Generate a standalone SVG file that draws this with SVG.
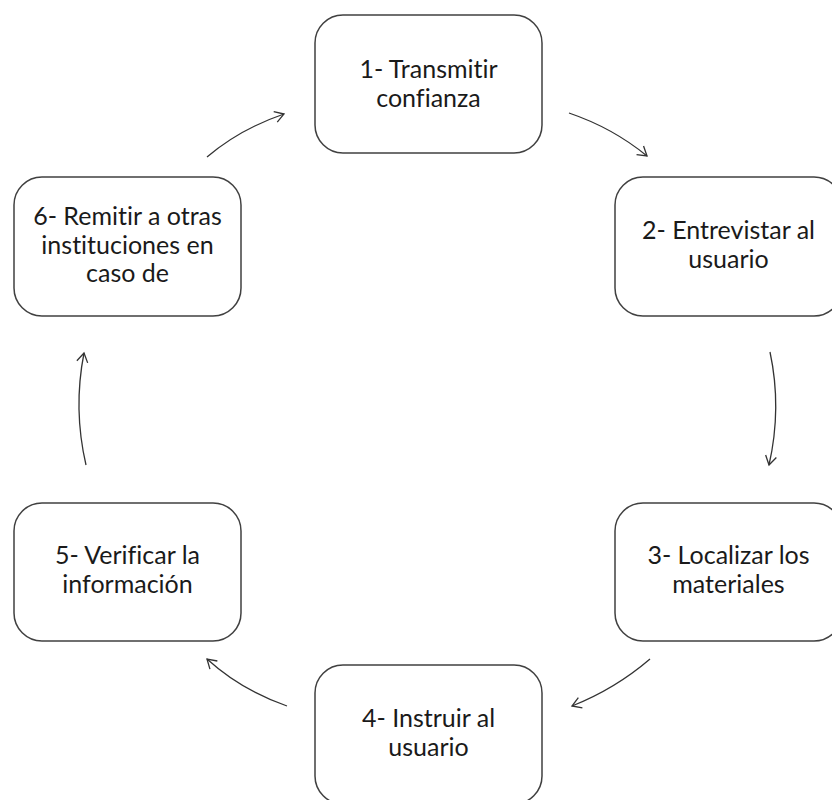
<svg xmlns="http://www.w3.org/2000/svg" width="832" height="800" viewBox="0 0 832 800">
<defs>
<style>
.box{fill:#ffffff;stroke:#404040;stroke-width:1.5}
.lbl{font-family:Lato,"Open Sans",sans-serif;font-size:25px;fill:#1a1a1a;text-anchor:middle;font-variant-ligatures:none;font-feature-settings:"liga" 0}
.arr{fill:none;stroke:#333333;stroke-width:1.3;marker-end:url(#ah)}
</style>
<marker id="ah" viewBox="-11 -7 13 14" refX="0" refY="0" markerWidth="13" markerHeight="14" markerUnits="userSpaceOnUse" orient="auto">
<path d="M-9,-5.5 L0,0 L-9,5.5" fill="none" stroke="#333333" stroke-width="1.3"/>
</marker>
</defs>
<rect width="832" height="800" fill="#ffffff"/>
<g id="connectors">
<path class="arr" d="M569,113 Q613,128 647,156"/>
<path class="arr" d="M770,352 Q782,408 769,465"/>
<path class="arr" d="M650,659 Q615,689 572,706"/>
<path class="arr" d="M287,706 Q241,690 207,659"/>
<path class="arr" d="M86,465 Q73,409 84,353"/>
<path class="arr" d="M207,157 Q240,129 284,114"/>
</g>
<g id="node1">
<rect class="box" x="315" y="15" width="227" height="138" rx="28"/>
<text class="lbl" x="428.5" y="78">1- Transmitir</text>
<text class="lbl" x="428.5" y="106.5">confianza</text>
</g>
<g id="node2">
<rect class="box" x="615" y="177" width="227" height="139" rx="28"/>
<text class="lbl" x="728.5" y="239">2- Entrevistar al</text>
<text class="lbl" x="728.5" y="267.5">usuario</text>
</g>
<g id="node3">
<rect class="box" x="615" y="503" width="227" height="138" rx="28"/>
<text class="lbl" x="728.5" y="564">3- Localizar los</text>
<text class="lbl" x="728.5" y="592.5">materiales</text>
</g>
<g id="node4">
<rect class="box" x="315" y="665" width="227" height="139" rx="28"/>
<text class="lbl" x="428.5" y="727">4- Instruir al</text>
<text class="lbl" x="428.5" y="755.5">usuario</text>
</g>
<g id="node5">
<rect class="box" x="14" y="503" width="227" height="138" rx="28"/>
<text class="lbl" x="127.5" y="564">5- Verificar la</text>
<text class="lbl" x="127.5" y="592.5">información</text>
</g>
<g id="node6">
<rect class="box" x="14" y="177" width="227" height="139" rx="28"/>
<text class="lbl" x="127.5" y="225">6- Remitir a otras</text>
<text class="lbl" x="127.5" y="253.5">instituciones en</text>
<text class="lbl" x="127.5" y="282">caso de</text>
</g>
</svg>
